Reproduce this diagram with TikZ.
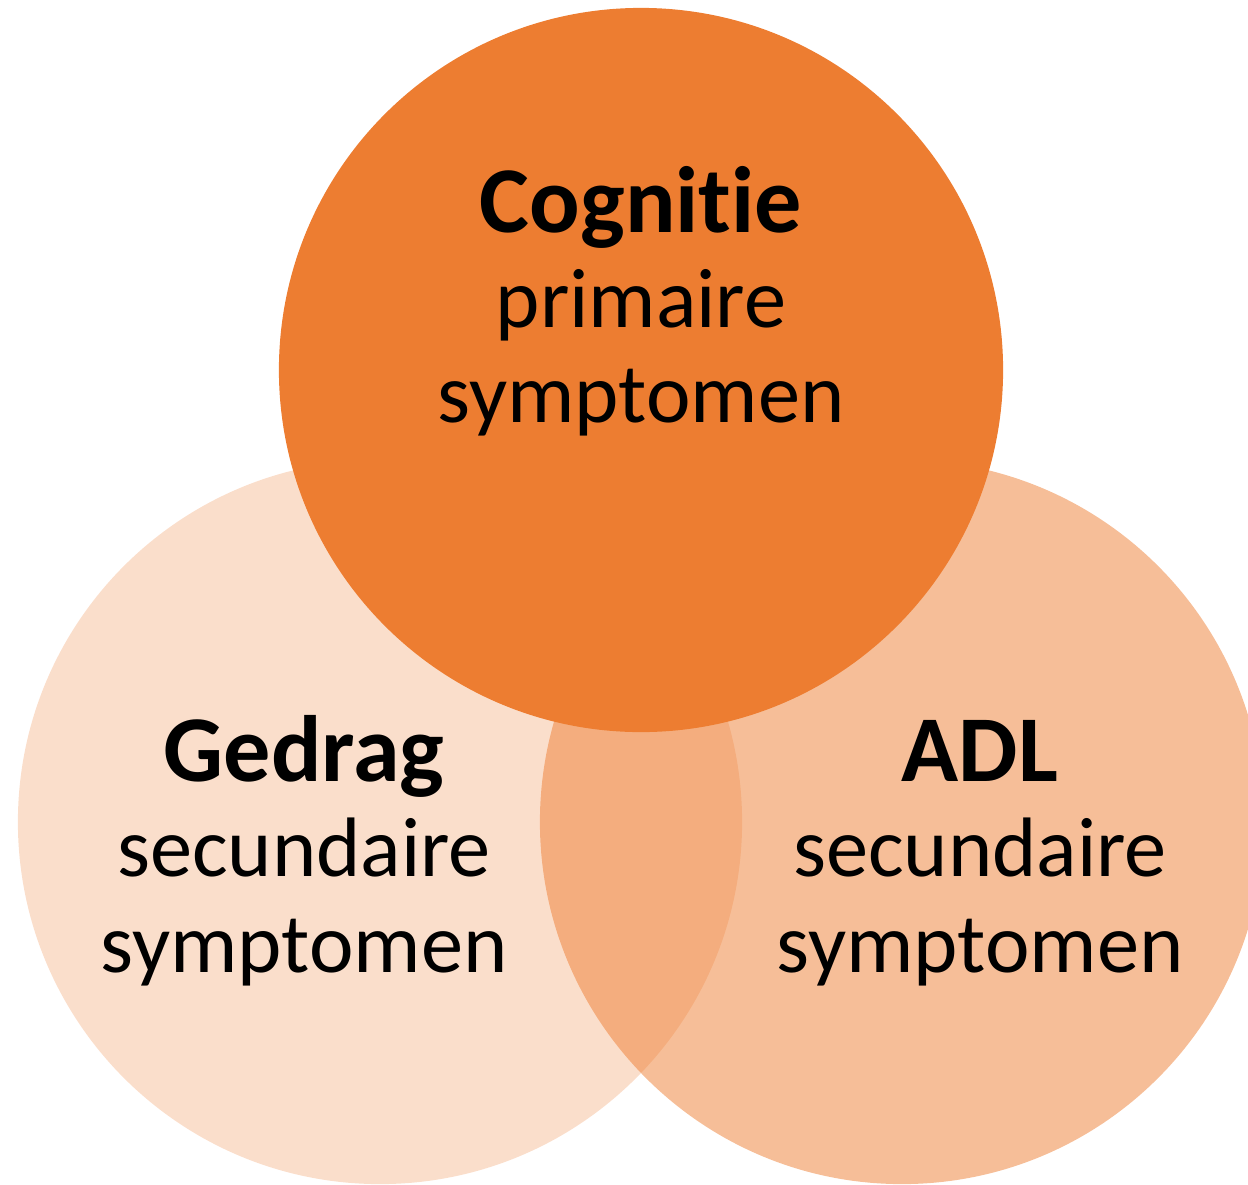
\documentclass[tikz,border=0pt]{standalone}
\usepackage{fontspec}
\setmainfont{Carlito}[Ligatures=NoCommon]
\usepackage{tikz}
\definecolor{accent}{HTML}{ED7D31}

\begin{document}
\begin{tikzpicture}[x=0.025cm, y=-0.025cm,
    bubble/.style={circle, inner sep=0, minimum size=18.1cm, fill=accent},
    title/.style={anchor=base, inner sep=0, font=\fontsize{67}{78}\selectfont\bfseries},
    sub/.style={anchor=base, inner sep=0, font=\fontsize{60}{70}\selectfont}]
    \useasboundingbox (0,0) rectangle (1248,1184);
    \clip (0,0) rectangle (1248,1184);

    % Circles
    \node[bubble, fill opacity=0.25] (gedrag) at (380,822) {};
    \node[bubble, fill opacity=0.5] (adl) at (902,822) {};
    \node[bubble] (cognitie) at (641,370) {};

    % Labels
    \node[title] (cogtitle) at (641,232) {Cognitie};
    \node[sub] (cogline1) at (641,327) {primaire};
    \node[sub] (cogline2) at (641,422) {symptomen};

    \node[title] (gedtitle) at (304,781) {Gedrag};
    \node[sub] (gedline1) at (304,876) {secundaire};
    \node[sub] (gedline2) at (304,972) {symptomen};

    \node[title] (adltitle) at (980,781) {ADL};
    \node[sub] (adlline1) at (980,876) {secundaire};
    \node[sub] (adlline2) at (980,972) {symptomen};
\end{tikzpicture}
\end{document}
